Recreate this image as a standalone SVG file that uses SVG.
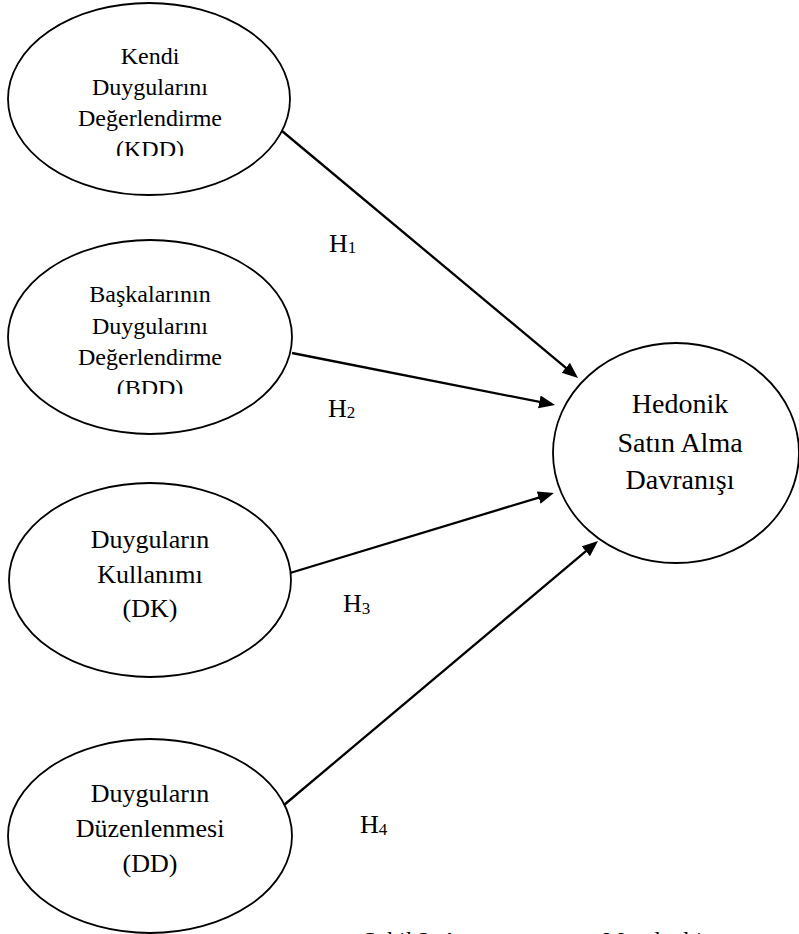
<svg xmlns="http://www.w3.org/2000/svg" width="799" height="934" viewBox="0 0 799 934">
<style>
  .node ellipse { fill: #ffffff; stroke: #000000; stroke-width: 1.8; }
  .t { font-family: "Liberation Serif", "Times New Roman", serif; fill: #000000; text-anchor: middle; }
  .s24 { font-size: 24px; }
  .s26 { font-size: 26px; }
  .s28 { font-size: 28px; }
  .lab { font-family: "Liberation Serif", "Times New Roman", serif; font-size: 26px; fill: #000000; }
  .sub { font-size: 17px; }
  .conn line { stroke: #000000; stroke-width: 2.3; marker-end: url(#arrow); }
  .cap { font-family: "Liberation Serif", "Times New Roman", serif; font-size: 24px; fill: #000000; }
</style>
<defs>
  <marker id="arrow" markerUnits="userSpaceOnUse" markerWidth="17" markerHeight="14" refX="8" refY="6.5" orient="auto">
    <path d="M0,0 L16,6.5 L0,13 z" fill="#000000"/>
  </marker>
  <clipPath id="clipKDD"><rect x="0" y="0" width="300" height="156"/></clipPath>
  <clipPath id="clipBDD"><rect x="0" y="240" width="300" height="154"/></clipPath>
</defs>
<rect width="799" height="934" fill="#ffffff"/>

<g id="node-kdd" class="node">
  <ellipse cx="149" cy="99" rx="141" ry="96"/>
  <g clip-path="url(#clipKDD)">
    <text class="t s24" x="150" y="64">Kendi</text>
    <text class="t s24" x="150" y="95">Duygularını</text>
    <text class="t s24" x="150" y="126">Değerlendirme</text>
    <text class="t s24" x="150" y="157">(KDD)</text>
  </g>
</g>

<g id="node-bdd" class="node">
  <ellipse cx="150" cy="337" rx="142" ry="97"/>
  <g clip-path="url(#clipBDD)">
    <text class="t s24" x="150" y="302">Başkalarının</text>
    <text class="t s24" x="150" y="334">Duygularını</text>
    <text class="t s24" x="150" y="365">Değerlendirme</text>
    <text class="t s24" x="150" y="396">(BDD)</text>
  </g>
</g>

<g id="node-dk" class="node">
  <ellipse cx="150" cy="580" rx="141" ry="97"/>
  <text class="t s26" x="150" y="548">Duyguların</text>
  <text class="t s26" x="150" y="583">Kullanımı</text>
  <text class="t s26" x="150" y="617">(DK)</text>
</g>

<g id="node-dd" class="node">
  <ellipse cx="150" cy="836" rx="142" ry="97"/>
  <text class="t s26" x="150" y="802">Duyguların</text>
  <text class="t s26" x="150" y="837">Düzenlenmesi</text>
  <text class="t s26" x="150" y="872">(DD)</text>
</g>

<g id="node-hedonik" class="node">
  <ellipse cx="676" cy="453" rx="123" ry="110"/>
  <text class="t s28" x="680" y="413">Hedonik</text>
  <text class="t s28" x="680" y="452">Satın Alma</text>
  <text class="t s28" x="680" y="489">Davranışı</text>
</g>

<g id="connectors" class="conn">
  <line x1="282" y1="131" x2="571.9" y2="372.9"/>
  <line x1="292" y1="353" x2="547.2" y2="403.4"/>
  <line x1="290" y1="573" x2="546.3" y2="495.3"/>
  <line x1="284" y1="805" x2="591.9" y2="546.1"/>
</g>

<g id="labels">
  <text class="lab" x="329" y="252">H<tspan class="sub" dy="1">1</tspan></text>
  <text class="lab" x="328" y="417">H<tspan class="sub" dy="1">2</tspan></text>
  <text class="lab" x="343" y="612">H<tspan class="sub" dy="2">3</tspan></text>
  <text class="lab" x="360" y="833">H<tspan class="sub" dy="2">4</tspan></text>
</g>

<g id="caption">
  <text class="cap" x="363" y="948">Şekil 2. Araştırma</text>
  <text class="cap" x="603" y="948" letter-spacing="6">Modeli</text>
</g>
</svg>
